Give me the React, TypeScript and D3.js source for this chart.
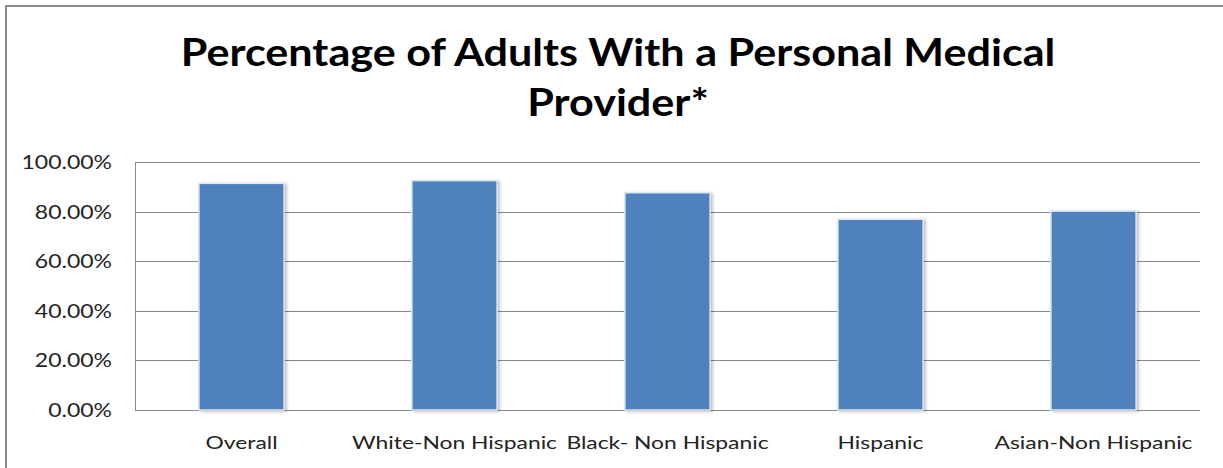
import React from "react";
import * as d3 from "d3";

const categories = ["Overall", "White-Non Hispanic", "Black- Non Hispanic", "Hispanic", "Asian-Non Hispanic"];
const values = [0.914, 0.925, 0.876, 0.769, 0.802];
const yTicks = [0, 0.2, 0.4, 0.6, 0.8, 1.0];
const titleLines = ["Percentage of Adults With a Personal Medical", "Provider*"];

export default function App() {
  const W = 1223, H = 468;
  const left = 135, right = 1200, top = 162, bottom = 410;
  const x = d3.scaleBand<string>().domain(categories).range([left, right]).paddingInner(0.6).paddingOuter(0.3);
  const y = d3.scaleLinear().domain([0, 1]).range([bottom, top]);
  const fmt = d3.format(".2%");
  const font = "Lato, 'Open Sans', sans-serif";
  return (
    <svg width={W} height={H} style={{ position: "absolute", left: 0, top: 0, background: "#fff" }}>
      <defs>
        <filter id="sh" x="-20%" y="-20%" width="140%" height="140%">
          <feDropShadow dx="2" dy="1" stdDeviation="1.5" floodColor="#000" floodOpacity="0.25" />
        </filter>
      </defs>
      <rect x={6} y={6} width={1240} height={480} fill="#fff" stroke="#8c8c8c" strokeWidth={2} />
      {titleLines.map((t, i) => (
        <text key={i} transform={`translate(618,${66 + i * 50}) scale(1.15,1)`} textAnchor="middle" fontFamily={font} fontWeight="bold" fontSize={37.5} fill="#000">{t}</text>
      ))}
      {yTicks.map((t) => (
        <g key={t}>
          <line x1={left} x2={right} y1={Math.round(y(t)) + 0.5} y2={Math.round(y(t)) + 0.5} stroke="#8a8a8a" strokeWidth={1} />
          <text transform={`translate(112,${y(t) + 7}) scale(1.18,1)`} textAnchor="end" fontFamily={font} fontSize={19.5} fill="#222">{fmt(t)}</text>
        </g>
      ))}
      <line x1={left + 0.5} x2={left + 0.5} y1={top} y2={bottom} stroke="#8a8a8a" strokeWidth={1} />
      {categories.map((c, i) => (
        <rect key={c} x={x(c)!} y={y(values[i])} width={x.bandwidth()} height={bottom - y(values[i])}
          fill="#4F81BD" stroke="#dce6f2" strokeWidth={1.5} filter="url(#sh)" />
      ))}
      {categories.map((c) => (
        <text key={c} transform={`translate(${x(c)! + x.bandwidth() / 2},449) scale(1.27,1)`} textAnchor="middle" fontFamily={font} fontSize={18} fill="#222">{c}</text>
      ))}
    </svg>
  );
}
